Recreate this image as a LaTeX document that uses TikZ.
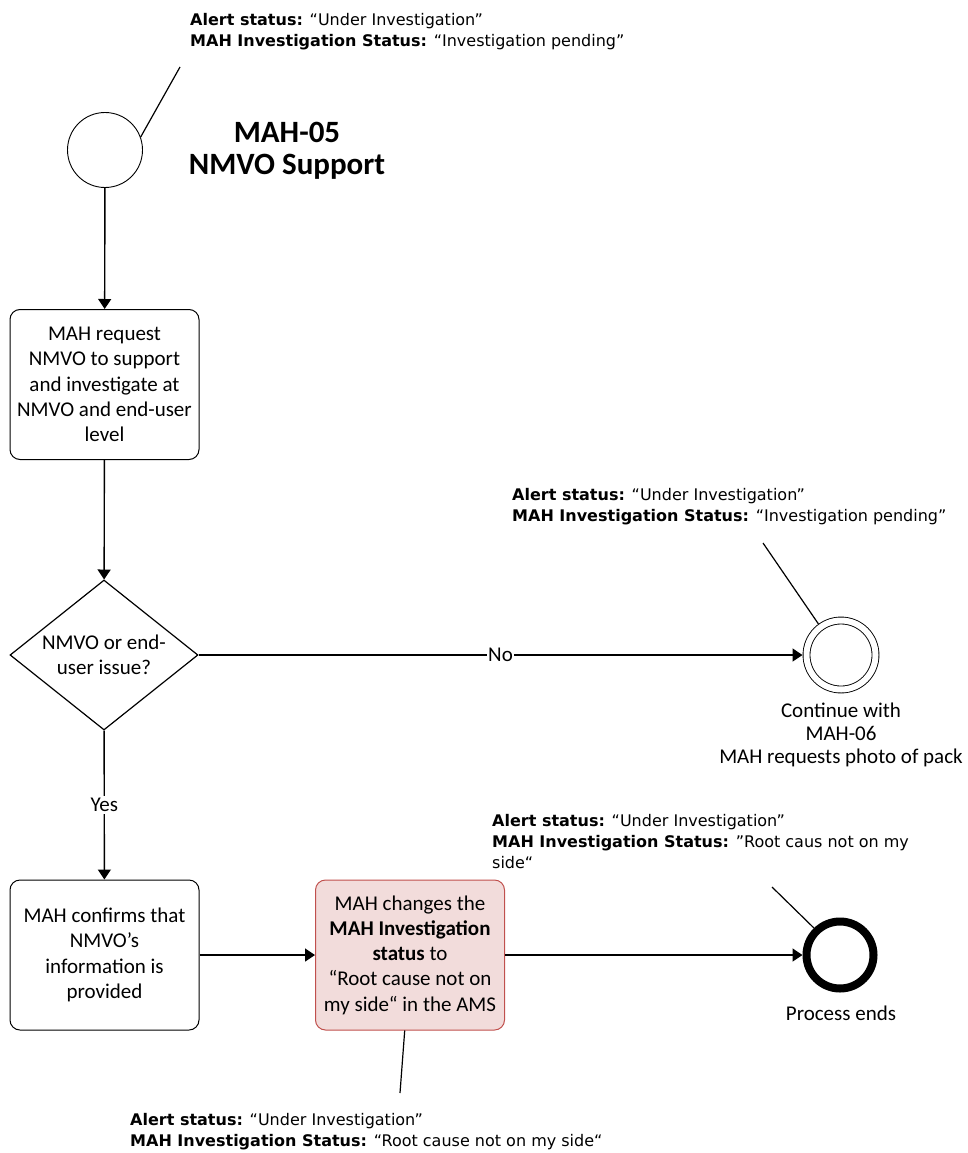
\documentclass[tikz,border=0pt]{standalone}
\usepackage{fontspec}
\setmainfont{Carlito}
\newfontfamily\notefamily{DejaVu Sans}
\usetikzlibrary{shapes.geometric,arrows.meta}

\definecolor{chgfill}{HTML}{F2DCDB}
\definecolor{chgdraw}{HTML}{C0504D}

\newcommand{\bodytxt}{\fontsize{21}{25.3}\selectfont}
\newcommand{\notetxt}{\notefamily\fontsize{16}{21}\selectfont}

\tikzset{
  task/.style={draw, rounded corners=10pt, line width=1pt, minimum width=189pt, minimum height=150pt, align=center, font=\bodytxt},
  chgtask/.style={task, draw=chgdraw, fill=chgfill},
  decision/.style={draw, diamond, aspect=1.4, inner sep=0pt, line width=1.2pt, minimum width=188pt, minimum height=150pt, align=center, font=\bodytxt},
  startev/.style={draw, circle, line width=0.9pt, minimum size=75pt, inner sep=0pt},
  midev/.style={draw, circle, double, line width=0.9pt, double distance=6pt, minimum size=69pt, inner sep=0pt, outer sep=4pt},
  endev/.style={draw, circle, line width=8pt, minimum size=67pt, inner sep=0pt},
  note/.style={align=left, anchor=west, inner sep=0pt, font=\notetxt},
  flow/.style={line width=1.4pt, -{Triangle[length=10pt,width=13pt]}},
  link/.style={line width=1.2pt}
}

\begin{document}
\begin{tikzpicture}[x=1pt,y=-1pt]
\useasboundingbox (0,0) rectangle (968,1153);

% events
\node (start) [startev] at (105,150) {};
\node (cont) [midev] at (841,655) {};
\node (stop) [endev] at (840,955) {};

% tasks
\node (req) [task] at (104.5,384.5) {MAH request\\NMVO to support\\and investigate at\\NMVO and end-user\\level};
\node (dec) [decision] at (104,655) {NMVO or end-\\user issue?};
\node (conf) [task] at (104.5,955) {MAH confirms that\\NMVO’s\\information is\\provided};
\node (chg) [chgtask] at (410,955) {MAH changes the\\\textbf{MAH Investigation}\\\textbf{status} to\\“Root cause not on\\my side“ in the AMS};

% title
\node (title) [font=\fontsize{31}{32.5}\selectfont\bfseries, align=center] at (287,151) {MAH-05\\NMVO Support};

% labels
\node (contl) [font=\fontsize{21}{23}\selectfont, align=center] at (841,735) {Continue with\\MAH-06\\MAH requests photo of pack};
\node (stopl) [font=\bodytxt] at (841,1013) {Process ends};

% flow
\draw[flow] (start) -- (req);
\draw[flow] (req) -- (dec);
\draw[flow] (dec) -- node[fill=white, inner sep=1pt, font=\bodytxt]{No} (cont);
\draw[flow] (dec) -- node[fill=white, inner sep=2pt, font=\bodytxt]{Yes} (conf);
\draw[flow] (conf) -- (chg);
\draw[flow] (chg) -- (stop);

% notes
\coordinate (c1) at (180,67);
\coordinate (c2) at (763,543);
\coordinate (c3) at (772,887);
\coordinate (c4) at (400,1093);
\draw[link] (start.20) -- (c1);
\draw[link] (cont.126) -- (c2);
\draw[link] (stop.134) -- (c3);
\draw[link] (chg.266) -- (c4);

\node (n1) [note] at (190,32) {\textbf{Alert status:} “Under Investigation”\\\textbf{MAH Investigation Status:} “Investigation pending”};
\node (n2) [note] at (512,507) {\textbf{Alert status:} “Under Investigation”\\\textbf{MAH Investigation Status:} “Investigation pending”};
\node (n3) [note] at (492,842) {\textbf{Alert status:} “Under Investigation”\\\textbf{MAH Investigation Status:} ”Root caus not on my\\side“};
\node (n4) [note] at (130,1131.5) {\textbf{Alert status:} “Under Investigation”\\\textbf{MAH Investigation Status:} “Root cause not on my side“};

\end{tikzpicture}
\end{document}
